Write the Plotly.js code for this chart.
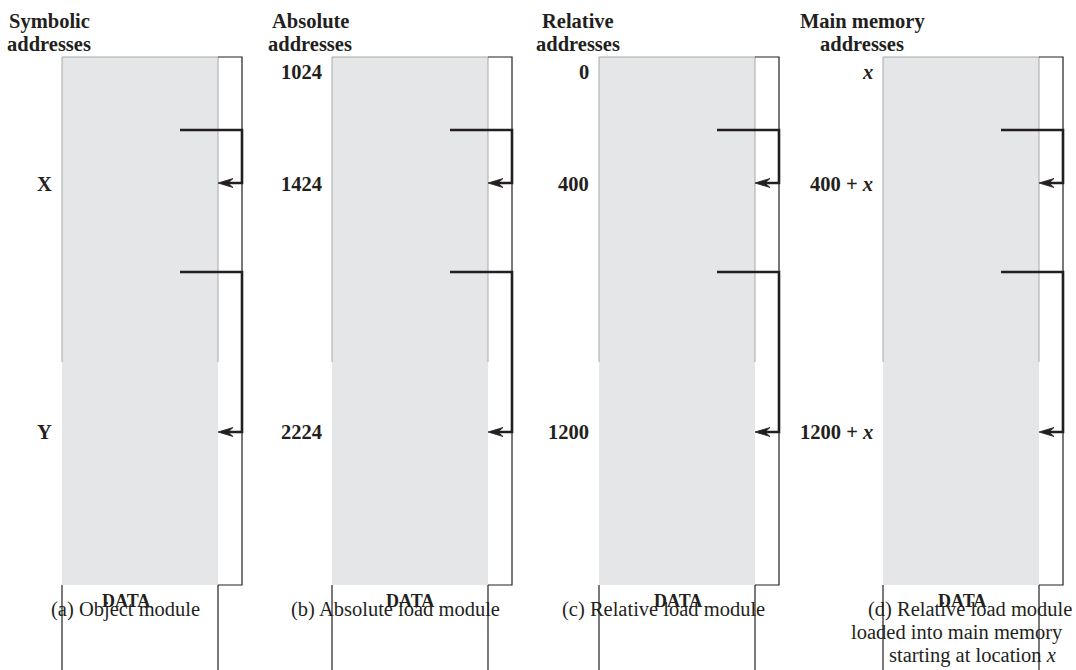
<!DOCTYPE html>
<html><head><meta charset="utf-8">
<script src="https://cdn.plot.ly/plotly-3.0.1.min.js"></script>
<style>html,body{margin:0;padding:0;background:#fff;overflow:hidden}</style>
</head><body><div id="chart" style="width:1076px;height:670px"></div>
<script>
// ---- content (text of the figure) ----
const headerLine1 = ['Symbolic', 'Absolute', 'Relative', 'Main memory'];
const headerLine2 = ['addresses', 'addresses', 'addresses', 'addresses'];
const startAddresses = ['', '1024', '0', '<i>x</i>'];
const xAddresses = ['X', '1424', '400', '400 + <i>x</i>'];
const yAddresses = ['Y', '2224', '1200', '1200 + <i>x</i>'];
const sectionLabels = ['DATA', 'DATA', 'DATA', 'DATA'];
const captionLines = [
  ['(a) Object module'],
  ['(b) Absolute load module'],
  ['(c) Relative load module'],
  ['(d) Relative load module', 'loaded into main memory', 'starting at location <i>x</i>']
];

// ---- geometry (pixel layout) ----
const moduleLeft = [62, 332, 599, 883];
const moduleWidth = 156, outerGap = 24;
const topY = 57, bottomY = 585, edgeEndY = 362, pageBottom = 670;
const bracketInset = 38;
const bracketStartY = [130, 272];
const arrowY = [183, 432];
const headerCenter = [49, 310, 578, 862];
const headerY = [21, 44];
const labelY = [72, 184, 432];
const dataCenter = [126, 410, 678, 962];
const captionCenter = [[125], [395], [663], [970, 957, 972]];
const captionY = [609, 632, 655];

const ink = '#231f20';
const fontFamily = '"Liberation Serif", "Times New Roman", Times, serif';

const traces = [];
const shapes = [];
const annotations = [];

moduleLeft.forEach((L, i) => {
  const R = L + moduleWidth, O = R + outerGap;
  // grey body
  shapes.push({type: 'rect', xref: 'x', yref: 'y', x0: L, x1: R, y0: topY, y1: bottomY,
    fillcolor: '#e5e6e7', line: {width: 0}, layer: 'below'});
  // grey edge (upper part)
  shapes.push({type: 'path', xref: 'x', yref: 'y',
    path: `M${L},${edgeEndY} L${L},${topY} L${R},${topY} L${R},${edgeEndY}`,
    line: {color: '#a8a8a8', width: 1}, layer: 'below'});
  // outer box
  shapes.push({type: 'path', xref: 'x', yref: 'y',
    path: `M${R},${topY} L${O},${topY} L${O},${bottomY} L${R},${bottomY}`,
    line: {color: ink, width: 1.2}});
  // DATA section lines
  shapes.push({type: 'line', xref: 'x', yref: 'y', x0: L, x1: L, y0: bottomY, y1: pageBottom,
    line: {color: ink, width: 1.2}});
  shapes.push({type: 'line', xref: 'x', yref: 'y', x0: R, x1: R, y0: bottomY, y1: pageBottom,
    line: {color: ink, width: 1.2}});
  // brackets with arrows
  bracketStartY.forEach((ys, k) => {
    const ya = arrowY[k];
    traces.push({type: 'scatter', mode: 'lines', hoverinfo: 'skip',
      x: [R - bracketInset, O, O, R + 8], y: [ys, ys, ya, ya],
      line: {color: ink, width: 2.6}});
    shapes.push({type: 'path', xref: 'x', yref: 'y',
      path: `M${R},${ya} L${R + 15},${ya - 4.5} L${R + 10},${ya} L${R + 15},${ya + 4.5} Z`,
      fillcolor: ink, line: {color: ink, width: 0.8}});
  });
  // headers
  [headerLine1[i], headerLine2[i]].forEach((t, k) => {
    annotations.push({x: headerCenter[i], y: headerY[k], xref: 'x', yref: 'y', text: t,
      showarrow: false, xanchor: 'center', yanchor: 'middle',
      font: {family: fontFamily, size: 20.5, color: ink, weight: 'bold'}});
  });
  // address labels
  [startAddresses[i], xAddresses[i], yAddresses[i]].forEach((t, k) => {
    if (!t) return;
    annotations.push({x: L - 8, y: labelY[k], xref: 'x', yref: 'y', text: t,
      showarrow: false, xanchor: 'right', yanchor: 'middle',
      font: {family: fontFamily, size: 20.5, color: ink, weight: 'bold'}});
  });
  // DATA label
  annotations.push({x: dataCenter[i], y: 601, xref: 'x', yref: 'y', text: sectionLabels[i],
    showarrow: false, xanchor: 'center', yanchor: 'middle',
    font: {family: fontFamily, size: 18, color: ink, weight: 'bold'}});
  // captions
  captionLines[i].forEach((t, k) => {
    annotations.push({x: captionCenter[i][k], y: captionY[k], xref: 'x', yref: 'y', text: t,
      showarrow: false, xanchor: 'center', yanchor: 'middle',
      font: {family: fontFamily, size: 20.5, color: ink}});
  });
});

const layout = {
  width: 1076, height: 670,
  margin: {l: 0, r: 0, t: 0, b: 0, pad: 0},
  paper_bgcolor: '#ffffff', plot_bgcolor: '#ffffff',
  showlegend: false,
  xaxis: {range: [0, 1076], visible: false, fixedrange: true},
  yaxis: {range: [670, 0], visible: false, fixedrange: true},
  shapes: shapes,
  annotations: annotations
};

Plotly.newPlot('chart', traces, layout, {staticPlot: true, displayModeBar: false});
</script>
</body></html>
